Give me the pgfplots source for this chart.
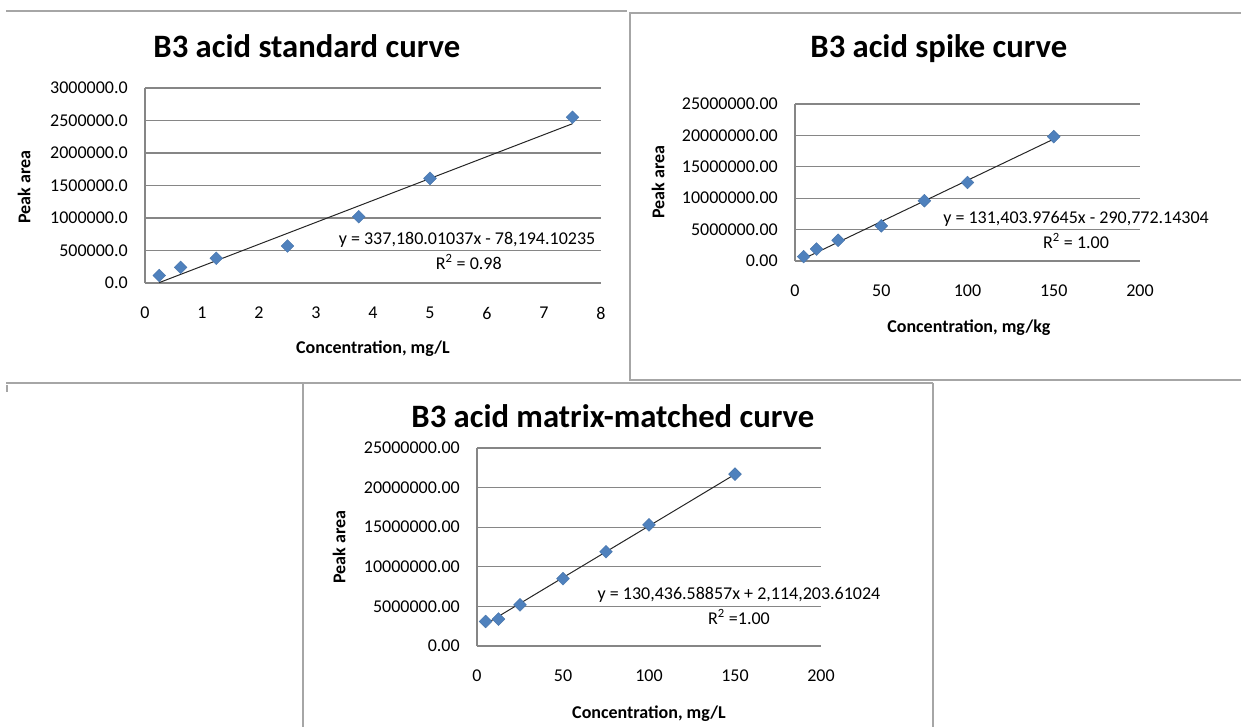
\documentclass[border=0pt]{standalone}
\usepackage{fontspec}
\setmainfont{Carlito}
\usepackage{pgfplots}
\pgfplotsset{compat=1.18}
\definecolor{excelblue}{HTML}{4F81BD}
\definecolor{gridc}{HTML}{868686}
\definecolor{framec}{HTML}{A6A6A6}
\tikzset{eq/.style={font=\fontsize{13.5}{16}\selectfont, inner sep=0pt, anchor=center}}
\pgfplotsset{
  /pgf/number format/assume math mode=true,
  excel/.style={
    scale only axis,
    axis x line=bottom, axis y line=left,
    axis line style={-, draw=gridc, line width=0.8pt},
    ymajorgrids, grid style={draw=gridc, line width=0.8pt},
    major tick length=0pt,
    clip=false,
    scaled ticks=false,
    tick label style={font=\fontsize{13.5}{16}\selectfont, text=black},
    xticklabel style={anchor=center, yshift=-22.5pt},
    yticklabel style={anchor=east, inner sep=0pt, xshift=-12.75pt},
    xticklabel={\pgfmathprintnumber[fixed,precision=0]{\tick}},
    label style={font=\bfseries\fontsize{13.5}{16}\selectfont},
    xlabel style={anchor=center},
    ylabel style={anchor=center},
    title style={font=\bfseries\fontsize{24.5}{29}\selectfont, anchor=center, yshift=-5pt},
  },
  pts/.style={only marks, mark=square*, mark size=3.4pt,
    mark options={rotate=45, fill=excelblue, draw=excelblue!90!black, line width=0.3pt}},
  trend/.style={no marks, draw=black!85, line width=0.75pt},
}
\begin{document}
\begin{tikzpicture}
\useasboundingbox (0,0) rectangle (930.75pt,-545.25pt);
\begin{scope}[x=0.75pt,y=-0.75pt, draw=framec, line width=1.1pt]
  \draw (6,11) -- (627,11);
  \draw (1241,13) -- (630,13) -- (630,380) -- (1241,380);
  \draw (6,383) -- (933,383);
  \draw (303,383) -- (303,727);
  \draw (933,383) -- (933,727);
  \draw (7,385) -- (7,392);
\end{scope}

% Chart 1
\begin{axis}[excel,
  at={(108.75pt,-212.25pt)}, anchor=south west,
  width=342pt, height=146.25pt,
  xmin=0, xmax=8, xtick={0,1,...,8},
  ymin=0, ymax=3000000, ytick={0,500000,...,3000000},
  yticklabel style={/pgf/number format/.cd, fixed, fixed zerofill, precision=1, 1000 sep={}},
  title={B3 acid standard curve}, title style={at={(0.355,1.21)}},
  xlabel={Concentration, mg/L}, xlabel style={at={(0.5,-0.338)}},
  ylabel={Peak area}, ylabel style={at={(-0.265,0.492)}},
]
\addplot[pts] coordinates {(0.25,115000) (0.625,240000) (1.25,380000) (2.5,570000) (3.75,1020000) (5,1610000) (7.5,2550000)};
\addplot[trend] coordinates {(0.25,6101) (7.5,2450656)};
\node[eq] at (axis cs:5.65,660000) {y = 337,180.01037x - 78,194.10235};
\node[eq] at (axis cs:5.68,323000) {R\textsuperscript{2} = 0.98};
\end{axis}

% Chart 2
\begin{axis}[excel,
  at={(596.25pt,-195.75pt)}, anchor=south west,
  width=258.75pt, height=117.75pt,
  xmin=0, xmax=200, xtick={0,50,...,200},
  ymin=0, ymax=25000000, ytick={0,5000000,...,25000000},
  yticklabel style={/pgf/number format/.cd, fixed, fixed zerofill, precision=2, 1000 sep={}},
  title={B3 acid spike curve}, title style={at={(0.417,1.344)}},
  xlabel={Concentration, mg/kg}, xlabel style={at={(0.504,-0.427)}},
  ylabel={Peak area}, ylabel style={at={(-0.397,0.503)}},
]
\addplot[pts] coordinates {(5,700000) (12.5,1900000) (25,3300000) (50,5600000) (75,9600000) (100,12500000) (150,19800000)};
\addplot[trend] coordinates {(5,366248) (150,19419824)};
\node[eq] at (axis cs:162.9,6690000) {y = 131,403.97645x - 290,772.14304};
\node[eq] at (axis cs:162.9,3180000) {R\textsuperscript{2} = 1.00};
\end{axis}

% Chart 3
\begin{axis}[excel,
  at={(357.75pt,-484.5pt)}, anchor=south west,
  width=258pt, height=148.5pt,
  xmin=0, xmax=200, xtick={0,50,...,200},
  ymin=0, ymax=25000000, ytick={0,5000000,...,25000000},
  yticklabel style={/pgf/number format/.cd, fixed, fixed zerofill, precision=2, 1000 sep={}},
  title={B3 acid matrix-matched curve}, title style={at={(0.395,1.152)}},
  xlabel={Concentration, mg/L}, xlabel style={at={(0.5,-0.343)}},
  ylabel={Peak area}, ylabel style={at={(-0.401,0.5)}},
]
\addplot[pts] coordinates {(5,3100000) (12.5,3400000) (25,5200000) (50,8500000) (75,11900000) (100,15300000) (150,21700000)};
\addplot[trend] coordinates {(5,2766387) (150,21679692)};
\node[eq] at (axis cs:152.3,6440000) {y = 130,436.58857x + 2,114,203.61024};
\node[eq] at (axis cs:152.3,3660000) {R\textsuperscript{2} =1.00};
\end{axis}
\end{tikzpicture}
\end{document}
